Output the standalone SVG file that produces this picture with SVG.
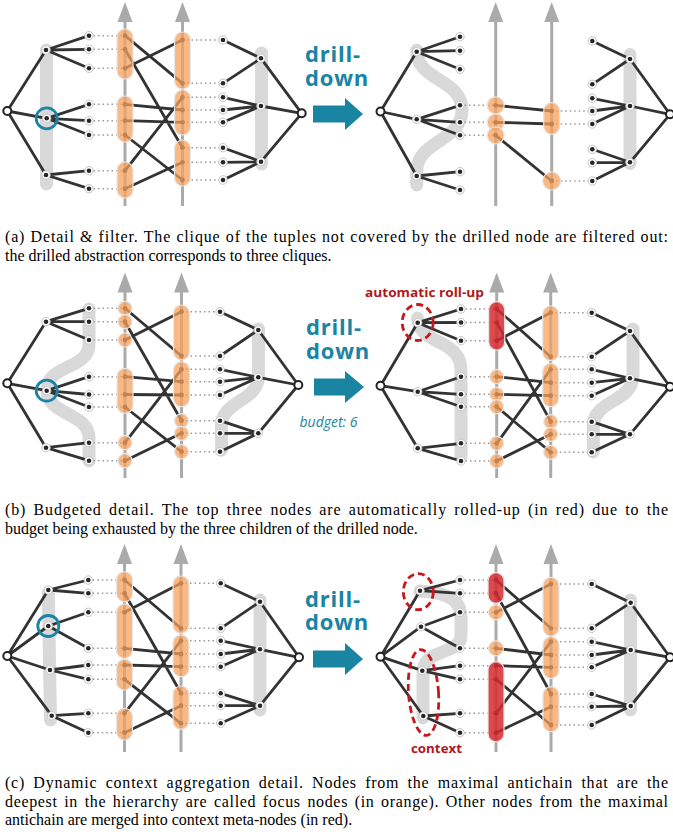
<svg xmlns="http://www.w3.org/2000/svg" xmlns:xlink="http://www.w3.org/1999/xlink" width="673" height="836" viewBox="0 0 673 836">
<style>
.bar{stroke:#d9d9d9;stroke-width:13;stroke-linecap:round;stroke-linejoin:round;fill:none}
.ax{stroke:#aaaaaa;stroke-width:3}
.e{stroke:#333;stroke-width:2.8;stroke-linecap:round;fill:none}
.d{stroke:#999;stroke-width:1.5;stroke-dasharray:1.5 3;fill:none}
.op{fill:#f7a15e;fill-opacity:.75;stroke:#e6e6e6;stroke-width:1.2}
.rp{fill:#d42a2f;fill-opacity:.85;stroke:#e6e6e6;stroke-width:1.2}
.ad{fill:#2a2a2a}
.rt{fill:#fff;stroke:#222;stroke-width:2}
.hl{fill:none;stroke:#1a84a3;stroke-width:2.8}
.rd{fill:none;stroke:#c8161d;stroke-width:2.8;stroke-dasharray:7 4}
.dd{font-family:"Open Sans","DejaVu Sans",sans-serif;font-weight:bold;font-size:22px;letter-spacing:0.8px;fill:#1a84a3}
.bu{font-family:"Open Sans","DejaVu Sans",sans-serif;font-style:italic;font-size:14px;fill:#1a84a3}
.rl{font-family:"Open Sans","DejaVu Sans",sans-serif;font-weight:bold;font-size:13px;fill:#b0181e}
.cap{font-family:"Liberation Serif","Times New Roman",serif;font-size:16px;fill:#000}
.arr{fill:#1a84a3}
</style>
<defs>
<g id="lf"><circle r="4.2" fill="#fff" stroke="#c4c4c4" stroke-width="1"/><circle r="2.3" fill="#262626"/></g>
<path id="ah" d="M-7.5,20L7.5,20L0,0Z" fill="#aaaaaa"/>
</defs>

<!-- ================= backgrounds: bars and axes ================= -->
<g id="bars">
<line class="bar" x1="46.5" y1="50" x2="46.5" y2="184"/>
<line class="bar" x1="261.5" y1="53" x2="261.5" y2="164"/>
<path class="bar" d="M416.7,50C416.7,82 462,78 462,110C462,142 416.7,140 416.7,172L416.7,185"/>
<line class="bar" x1="630" y1="54.5" x2="630" y2="163.5"/>
<path class="bar" d="M89,309L89,344C89,370 47,364 47,390C47,416 89,412 89,438L89,461"/>
<path class="bar" d="M258.5,329L258.5,376C258.5,402 221.5,400 221.5,426L221.5,450"/>
<path class="bar" d="M417.5,318C419,346 461,338 461,370L461,457"/>
<path class="bar" d="M633,329L633,376C633,402 593.3,400 593.3,426L593.3,452"/>
<line class="bar" x1="48.3" y1="593" x2="50.5" y2="720"/>
<line class="bar" x1="260" y1="600" x2="260" y2="710"/>
<path class="bar" d="M420,591C450,593 461,600 461,618L461,636C461,655 423,648 423,672L423,718"/>
<line class="bar" x1="630.5" y1="600" x2="630.5" y2="710"/>
</g>
<g id="axes">
<line class="ax" x1="125" y1="206" x2="125" y2="20"/><use href="#ah" x="125" y="2"/>
<line class="ax" x1="182.5" y1="206" x2="182.5" y2="20"/><use href="#ah" x="182.5" y="2"/>
<line class="ax" x1="495.7" y1="206" x2="495.7" y2="20"/><use href="#ah" x="495.7" y="2"/>
<line class="ax" x1="551.7" y1="206" x2="551.7" y2="20"/><use href="#ah" x="551.7" y="2"/>
<line class="ax" x1="125" y1="478" x2="125" y2="290"/><use href="#ah" x="125" y="272.5"/>
<line class="ax" x1="181.5" y1="478" x2="181.5" y2="290"/><use href="#ah" x="181.5" y="272.5"/>
<line class="ax" x1="496.7" y1="478" x2="496.7" y2="290"/><use href="#ah" x="496.7" y="272.5"/>
<line class="ax" x1="550.7" y1="478" x2="550.7" y2="290"/><use href="#ah" x="550.7" y="272.5"/>
<line class="ax" x1="124.5" y1="752" x2="124.5" y2="562"/><use href="#ah" x="124.5" y="544"/>
<line class="ax" x1="181" y1="752" x2="181" y2="562"/><use href="#ah" x="181" y="544"/>
<line class="ax" x1="496" y1="752" x2="496" y2="562"/><use href="#ah" x="496" y="544"/>
<line class="ax" x1="551" y1="752" x2="551" y2="562"/><use href="#ah" x="551" y="544"/>
</g>

<!-- ================= connectors ================= -->
<g id="connectors">
<!-- panel a left -->
<path class="d" d="M89,35.7H125M89,49.3H125M89,68.3H125M89,104.3H125M89,120.7H125M89,135H125M89,170.7H125M89,188.7H125"/>
<path class="d" d="M182.5,40H223M182.5,83.3H223M182.5,97.3H223M182.5,110H223M182.5,122.3H223M182.5,147.7H223M182.5,162.3H223M182.5,180H223"/>
<path class="e" d="M7.3,111L46,50M7.3,111L46.7,118.3M7.3,111L46,175"/>
<path class="e" d="M46,50L89,35.7M46,50L89,49.3M46,50L89,68.3M46.7,118.3L89,104.3M46.7,118.3L89,120.7M46.7,118.3L89,135M46,175L89,170.7M46,175L89,188.7"/>
<path class="e" d="M125,35.7L182.5,83.3M125,49.3L182.5,147.7M125,68.3L182.5,40M125,104.3L182.5,110M125,120.7L182.5,122.3M125,135L182.5,180M125,170.7L182.5,97.3M125,188.7L182.5,162.3"/>
<path class="e" d="M223,40L261,58.3M223,83.3L261,58.3M223,97.3L261,106M223,110L261,106M223,122.3L261,106M223,147.7L261,161.7M223,162.3L261,161.7M223,180L261,161.7"/>
<path class="e" d="M261,58.3L301.7,113.3M261,106L301.7,113.3M261,161.7L301.7,113.3"/>
<!-- panel a right -->
<path class="d" d="M460,105.3H495.7M460,122.3H495.7M460,135.3H495.7M551.7,111H592.3M551.7,124H592.3M551.7,181H592.3"/>
<path class="e" d="M380.5,111.5L416.7,51.7M380.5,111.5L416.7,119.3M380.5,111.5L416.7,176"/>
<path class="e" d="M416.7,51.7L460,36.7M416.7,51.7L460,50.7M416.7,51.7L460,69.3M416.7,119.3L460,105.3M416.7,119.3L460,122.3M416.7,119.3L460,135.3M416.7,176L460,171.7M416.7,176L460,190"/>
<path class="e" d="M495.7,105.3L551.7,111M495.7,122.3L551.7,124M495.7,135.3L551.7,181"/>
<path class="e" d="M592.3,41L630,59M592.3,84.3L630,59M592.3,98.3L630,106M592.3,111L630,106M592.3,124L630,106M592.3,149.3L630,162.3M592.3,162.7L630,162.3M592.3,181L630,162.3"/>
<path class="e" d="M630,59L670,114.3M630,106L670,114.3M630,162.3L670,114.3"/>
<!-- panel b left -->
<path class="d" d="M89,308.3H125M89,321.7H125M89,340H125M89,376.7H125M89,394.5H125M89,407H125M89,442.7H125M89,460.7H125"/>
<path class="d" d="M181.5,311.7H220M181.5,356H220M181.5,369.3H220M181.5,381.7H220M181.5,395H220M181.5,420.7H220M181.5,433.3H220M181.5,451.7H220"/>
<path class="e" d="M7.3,383.3L46,321.7M7.3,383.3L46.7,390.7M7.3,383.3L46,447.7"/>
<path class="e" d="M46,321.7L89,308.3M46,321.7L89,321.7M46,321.7L89,340M46.7,390.7L89,376.7M46.7,390.7L89,394.5M46.7,390.7L89,407M46,447.7L89,442.7M46,447.7L89,460.7"/>
<path class="e" d="M125,308.3L181.5,356M125,321.7L181.5,420.7M125,340L181.5,311.7M125,376.7L181.5,381.7M125,394.5L181.5,395M125,407L181.5,451.7M125,442.7L181.5,369.3M125,460.7L181.5,433.3"/>
<path class="e" d="M220,311.7L258.3,330M220,356L258.3,330M220,369.3L258.3,377.3M220,381.7L258.3,377.3M220,395L258.3,377.3M220,420.7L258.3,433.3M220,433.3L258.3,433.3M220,451.7L258.3,433.3"/>
<path class="e" d="M258.3,330L298.3,385M258.3,377.3L298.3,385M258.3,433.3L298.3,385"/>
<!-- panel b right -->
<path class="d" d="M461,309H496.7M461,322.5H496.7M461,340.7H496.7M461,376.7H496.7M461,394.3H496.7M461,406.7H496.7M461,443.3H496.7M461,461H496.7"/>
<path class="d" d="M550.7,312.7H591.7M550.7,356.7H591.7M550.7,369.3H591.7M550.7,382.7H591.7M550.7,395.7H591.7M550.7,421.7H591.7M550.7,434.3H591.7M550.7,452.3H591.7"/>
<path class="e" d="M380.5,385.7L417.7,322.7M380.5,385.7L417.7,391.7M380.5,385.7L417.7,448.3"/>
<path class="e" d="M417.7,322.7L461,309M417.7,322.7L461,322.5M417.7,322.7L461,340.7M417.7,391.7L461,376.7M417.7,391.7L461,394.3M417.7,391.7L461,406.7M417.7,448.3L461,443.3M417.7,448.3L461,461"/>
<path class="e" d="M496.7,309L550.7,356.7M496.7,322.5L550.7,421.7M496.7,340.7L550.7,312.7M496.7,376.7L550.7,382.7M496.7,394.3L550.7,395.7M496.7,406.7L550.7,452.3M496.7,443.3L550.7,369.3M496.7,461L550.7,434.3"/>
<path class="e" d="M591.7,312.7L630,331M591.7,356.7L630,331M591.7,369.3L630,378.3M591.7,382.7L630,378.3M591.7,395.7L630,378.3M591.7,421.7L630,434.3M591.7,434.3L630,434.3M591.7,452.3L630,434.3"/>
<path class="e" d="M630,331L670,386.7M630,378.3L670,386.7M630,434.3L670,386.7"/>
<!-- panel c left -->
<path class="d" d="M88.3,580H124.5M88.3,593.3H124.5M88.3,612.3H124.5M88.3,648.3H124.5M88.3,665H124.5M88.3,679.3H124.5M88.3,713.3H124.5M88.3,732.7H124.5"/>
<path class="d" d="M181,583.3H220.7M181,628.3H220.7M181,640.7H220.7M181,654H220.7M181,666.7H220.7M181,693.3H220.7M181,705.7H220.7M181,723.3H220.7"/>
<path class="e" d="M7.3,656L48.3,590M7.3,656L48.3,626M7.3,656L50,670M7.3,656L51.7,715.7"/>
<path class="e" d="M48.3,590L88.3,580M48.3,590L88.3,593.3M48.3,626L88.3,612.3M48.3,626L88.3,648.3M50,670L88.3,665M50,670L88.3,679.3M51.7,715.7L88.3,713.3M51.7,715.7L88.3,732.7"/>
<path class="e" d="M124.5,580L181,628.3M124.5,593.3L181,693.3M124.5,612.3L181,583.3M124.5,648.3L181,654M124.5,665L181,666.7M124.5,679.3L181,723.3M124.5,713.3L181,640.7M124.5,732.7L181,705.7"/>
<path class="e" d="M220.7,583.3L260,601.7M220.7,628.3L260,601.7M220.7,640.7L260,649.3M220.7,654L260,649.3M220.7,666.7L260,649.3M220.7,693.3L260,705.7M220.7,705.7L260,705.7M220.7,723.3L260,705.7"/>
<path class="e" d="M260,601.7L299,657.3M260,649.3L299,657.3M260,705.7L299,657.3"/>
<!-- panel c right -->
<path class="d" d="M460,580H496M460,593.3H496M460,612.3H496M460,648.3H496M460,665.7H496M460,679.3H496M460,713.3H496M460,732.7H496"/>
<path class="d" d="M551,584H591.7M551,628.3H591.7M551,641.7H591.7M551,655H591.7M551,667.3H591.7M551,694H591.7M551,706.7H591.7M551,725H591.7"/>
<path class="e" d="M380.5,656.7L420,590.7M380.5,656.7L421,626.7M380.5,656.7L422.3,670.7M380.5,656.7L423.3,716"/>
<path class="e" d="M420,590.7L460,580M420,590.7L460,593.3M421,626.7L460,612.3M421,626.7L460,648.3M422.3,670.7L460,665.7M422.3,670.7L460,679.3M423.3,716L460,713.3M423.3,716L460,732.7"/>
<path class="e" d="M496,580L551,628.3M496,593.3L551,694M496,612.3L551,584M496,648.3L551,655M496,665.7L551,667.3M496,679.3L551,725M496,713.3L551,641.7M496,732.7L551,706.7"/>
<path class="e" d="M591.7,584L630.7,602.7M591.7,628.3L630.7,602.7M591.7,641.7L630.7,650M591.7,655L630.7,650M591.7,667.3L630.7,650M591.7,694L630.7,706M591.7,706.7L630.7,706M591.7,725L630.7,706"/>
<path class="e" d="M630.7,602.7L670,657.3M630.7,650L670,657.3M630.7,706L670,657.3"/>
</g>

<!-- ================= nodes ================= -->
<!-- panel a left -->
<g id="aL-root"><circle class="rt" cx="7.3" cy="111" r="4"/></g>
<g id="aL-g1"><use href="#lf" x="46" y="50"/></g>
<g id="aL-g2"><use href="#lf" x="46.7" y="118.3"/></g>
<g id="aL-g3"><use href="#lf" x="46" y="175"/></g>
<g id="aL-l1"><use href="#lf" x="89" y="35.7"/></g>
<g id="aL-l2"><use href="#lf" x="89" y="49.3"/></g>
<g id="aL-l3"><use href="#lf" x="89" y="68.3"/></g>
<g id="aL-l4"><use href="#lf" x="89" y="104.3"/></g>
<g id="aL-l5"><use href="#lf" x="89" y="120.7"/></g>
<g id="aL-l6"><use href="#lf" x="89" y="135"/></g>
<g id="aL-l7"><use href="#lf" x="89" y="170.7"/></g>
<g id="aL-l8"><use href="#lf" x="89" y="188.7"/></g>
<g id="aL-a1"><circle class="ad" cx="125" cy="35.7" r="2.4"/><circle class="ad" cx="125" cy="49.3" r="2.4"/><circle class="ad" cx="125" cy="68.3" r="2.4"/><rect class="op" x="117" y="29" width="16" height="50" rx="8"/></g>
<g id="aL-a2"><circle class="ad" cx="125" cy="104.3" r="2.4"/><circle class="ad" cx="125" cy="120.7" r="2.4"/><circle class="ad" cx="125" cy="135" r="2.4"/><rect class="op" x="117" y="96" width="16" height="46" rx="8"/></g>
<g id="aL-a3"><circle class="ad" cx="125" cy="170.7" r="2.4"/><circle class="ad" cx="125" cy="188.7" r="2.4"/><rect class="op" x="117" y="162" width="16" height="36" rx="8"/></g>
<g id="aL-b1"><circle class="ad" cx="182.5" cy="40" r="2.4"/><circle class="ad" cx="182.5" cy="83.3" r="2.4"/><rect class="op" x="174.5" y="32" width="16" height="57" rx="8"/></g>
<g id="aL-b2"><circle class="ad" cx="182.5" cy="97.3" r="2.4"/><circle class="ad" cx="182.5" cy="110" r="2.4"/><circle class="ad" cx="182.5" cy="122.3" r="2.4"/><rect class="op" x="174.5" y="90" width="16" height="45" rx="8"/></g>
<g id="aL-b3"><circle class="ad" cx="182.5" cy="147.7" r="2.4"/><circle class="ad" cx="182.5" cy="162.3" r="2.4"/><circle class="ad" cx="182.5" cy="180" r="2.4"/><rect class="op" x="174.5" y="140" width="16" height="46" rx="8"/></g>
<g id="aL-r1"><use href="#lf" x="223" y="40"/></g>
<g id="aL-r2"><use href="#lf" x="223" y="83.3"/></g>
<g id="aL-r3"><use href="#lf" x="223" y="97.3"/></g>
<g id="aL-r4"><use href="#lf" x="223" y="110"/></g>
<g id="aL-r5"><use href="#lf" x="223" y="122.3"/></g>
<g id="aL-r6"><use href="#lf" x="223" y="147.7"/></g>
<g id="aL-r7"><use href="#lf" x="223" y="162.3"/></g>
<g id="aL-r8"><use href="#lf" x="223" y="180"/></g>
<g id="aL-h1"><use href="#lf" x="261" y="58.3"/></g>
<g id="aL-h2"><use href="#lf" x="261" y="106"/></g>
<g id="aL-h3"><use href="#lf" x="261" y="161.7"/></g>
<g id="aL-rootR"><circle class="rt" cx="301.7" cy="113.3" r="4"/></g>
<g id="aL-focus"><circle class="hl" cx="46.7" cy="118.3" r="10.5"/></g>

<!-- panel a right -->
<g id="aR-root"><circle class="rt" cx="380.5" cy="111.5" r="4"/></g>
<g id="aR-g1"><use href="#lf" x="416.7" y="51.7"/></g>
<g id="aR-g2"><use href="#lf" x="416.7" y="119.3"/></g>
<g id="aR-g3"><use href="#lf" x="416.7" y="176"/></g>
<g id="aR-l1"><use href="#lf" x="460" y="36.7"/></g>
<g id="aR-l2"><use href="#lf" x="460" y="50.7"/></g>
<g id="aR-l3"><use href="#lf" x="460" y="69.3"/></g>
<g id="aR-l4"><use href="#lf" x="460" y="105.3"/></g>
<g id="aR-l5"><use href="#lf" x="460" y="122.3"/></g>
<g id="aR-l6"><use href="#lf" x="460" y="135.3"/></g>
<g id="aR-l7"><use href="#lf" x="460" y="171.7"/></g>
<g id="aR-l8"><use href="#lf" x="460" y="190"/></g>
<g id="aR-a1"><circle class="ad" cx="495.7" cy="105.3" r="2.4"/><circle class="op" cx="495.7" cy="105.3" r="8.5"/></g>
<g id="aR-a2"><circle class="ad" cx="495.7" cy="122.3" r="2.4"/><circle class="op" cx="495.7" cy="122.3" r="8.5"/></g>
<g id="aR-a3"><circle class="ad" cx="495.7" cy="135.3" r="2.4"/><circle class="op" cx="495.7" cy="135.3" r="8.5"/></g>
<g id="aR-b1"><circle class="ad" cx="551.7" cy="111" r="2.4"/><circle class="ad" cx="551.7" cy="124" r="2.4"/><rect class="op" x="543.7" y="102.7" width="16" height="31.6" rx="8"/></g>
<g id="aR-b2"><circle class="ad" cx="551.7" cy="181" r="2.4"/><circle class="op" cx="551.7" cy="181" r="9"/></g>
<g id="aR-r1"><use href="#lf" x="592.3" y="41"/></g>
<g id="aR-r2"><use href="#lf" x="592.3" y="84.3"/></g>
<g id="aR-r3"><use href="#lf" x="592.3" y="98.3"/></g>
<g id="aR-r4"><use href="#lf" x="592.3" y="111"/></g>
<g id="aR-r5"><use href="#lf" x="592.3" y="124"/></g>
<g id="aR-r6"><use href="#lf" x="592.3" y="149.3"/></g>
<g id="aR-r7"><use href="#lf" x="592.3" y="162.7"/></g>
<g id="aR-r8"><use href="#lf" x="592.3" y="181"/></g>
<g id="aR-h1"><use href="#lf" x="630" y="59"/></g>
<g id="aR-h2"><use href="#lf" x="630" y="106"/></g>
<g id="aR-h3"><use href="#lf" x="630" y="162.3"/></g>
<g id="aR-rootR"><circle class="rt" cx="670" cy="114.3" r="4"/></g>

<!-- panel b left -->
<g id="bL-root"><circle class="rt" cx="7.3" cy="383.3" r="4"/></g>
<g id="bL-g1"><use href="#lf" x="46" y="321.7"/></g>
<g id="bL-g2"><use href="#lf" x="46.7" y="390.7"/></g>
<g id="bL-g3"><use href="#lf" x="46" y="447.7"/></g>
<g id="bL-l1"><use href="#lf" x="89" y="308.3"/></g>
<g id="bL-l2"><use href="#lf" x="89" y="321.7"/></g>
<g id="bL-l3"><use href="#lf" x="89" y="340"/></g>
<g id="bL-l4"><use href="#lf" x="89" y="376.7"/></g>
<g id="bL-l5"><use href="#lf" x="89" y="394.5"/></g>
<g id="bL-l6"><use href="#lf" x="89" y="407"/></g>
<g id="bL-l7"><use href="#lf" x="89" y="442.7"/></g>
<g id="bL-l8"><use href="#lf" x="89" y="460.7"/></g>
<g id="bL-a1"><circle class="ad" cx="125" cy="308.3" r="2.4"/><circle class="op" cx="125" cy="308.3" r="7"/></g>
<g id="bL-a2"><circle class="ad" cx="125" cy="321.7" r="2.4"/><circle class="op" cx="125" cy="321.7" r="7"/></g>
<g id="bL-a3"><circle class="ad" cx="125" cy="340" r="2.4"/><circle class="op" cx="125" cy="340" r="7"/></g>
<g id="bL-a4"><circle class="ad" cx="125" cy="376.7" r="2.4"/><circle class="ad" cx="125" cy="394.5" r="2.4"/><circle class="ad" cx="125" cy="407" r="2.4"/><rect class="op" x="117" y="368.3" width="16" height="45" rx="8"/></g>
<g id="bL-a5"><circle class="ad" cx="125" cy="442.7" r="2.4"/><circle class="op" cx="125" cy="442.7" r="7"/></g>
<g id="bL-a6"><circle class="ad" cx="125" cy="460.7" r="2.4"/><circle class="op" cx="125" cy="460.7" r="7"/></g>
<g id="bL-b1"><circle class="ad" cx="181.5" cy="311.7" r="2.4"/><circle class="ad" cx="181.5" cy="356" r="2.4"/><rect class="op" x="173.5" y="305" width="16" height="55" rx="8"/></g>
<g id="bL-b2"><circle class="ad" cx="181.5" cy="369.3" r="2.4"/><circle class="ad" cx="181.5" cy="381.7" r="2.4"/><circle class="ad" cx="181.5" cy="395" r="2.4"/><rect class="op" x="173.5" y="361.7" width="16" height="45" rx="8"/></g>
<g id="bL-b3"><circle class="ad" cx="181.5" cy="420.7" r="2.4"/><circle class="op" cx="181.5" cy="420.7" r="7"/></g>
<g id="bL-b4"><circle class="ad" cx="181.5" cy="433.3" r="2.4"/><circle class="op" cx="181.5" cy="433.3" r="7"/></g>
<g id="bL-b5"><circle class="ad" cx="181.5" cy="451.7" r="2.4"/><circle class="op" cx="181.5" cy="451.7" r="7"/></g>
<g id="bL-r1"><use href="#lf" x="220" y="311.7"/></g>
<g id="bL-r2"><use href="#lf" x="220" y="356"/></g>
<g id="bL-r3"><use href="#lf" x="220" y="369.3"/></g>
<g id="bL-r4"><use href="#lf" x="220" y="381.7"/></g>
<g id="bL-r5"><use href="#lf" x="220" y="395"/></g>
<g id="bL-r6"><use href="#lf" x="220" y="420.7"/></g>
<g id="bL-r7"><use href="#lf" x="220" y="433.3"/></g>
<g id="bL-r8"><use href="#lf" x="220" y="451.7"/></g>
<g id="bL-h1"><use href="#lf" x="258.3" y="330"/></g>
<g id="bL-h2"><use href="#lf" x="258.3" y="377.3"/></g>
<g id="bL-h3"><use href="#lf" x="258.3" y="433.3"/></g>
<g id="bL-rootR"><circle class="rt" cx="298.3" cy="385" r="4"/></g>
<g id="bL-focus"><circle class="hl" cx="46.7" cy="390.7" r="10.5"/></g>

<!-- panel b right -->
<g id="bR-root"><circle class="rt" cx="380.5" cy="385.7" r="4"/></g>
<g id="bR-g1"><use href="#lf" x="417.7" y="322.7"/></g>
<g id="bR-g2"><use href="#lf" x="417.7" y="391.7"/></g>
<g id="bR-g3"><use href="#lf" x="417.7" y="448.3"/></g>
<g id="bR-l1"><use href="#lf" x="461" y="309"/></g>
<g id="bR-l2"><use href="#lf" x="461" y="322.5"/></g>
<g id="bR-l3"><use href="#lf" x="461" y="340.7"/></g>
<g id="bR-l4"><use href="#lf" x="461" y="376.7"/></g>
<g id="bR-l5"><use href="#lf" x="461" y="394.3"/></g>
<g id="bR-l6"><use href="#lf" x="461" y="406.7"/></g>
<g id="bR-l7"><use href="#lf" x="461" y="443.3"/></g>
<g id="bR-l8"><use href="#lf" x="461" y="461"/></g>
<g id="bR-a1"><circle class="ad" cx="496.7" cy="309" r="2.4"/><circle class="ad" cx="496.7" cy="322.5" r="2.4"/><circle class="ad" cx="496.7" cy="340.7" r="2.4"/><rect class="rp" x="488.7" y="301.7" width="16" height="48.3" rx="8"/></g>
<g id="bR-a2"><circle class="ad" cx="496.7" cy="376.7" r="2.4"/><circle class="op" cx="496.7" cy="376.7" r="7"/></g>
<g id="bR-a3"><circle class="ad" cx="496.7" cy="394.3" r="2.4"/><circle class="op" cx="496.7" cy="394.3" r="7"/></g>
<g id="bR-a4"><circle class="ad" cx="496.7" cy="406.7" r="2.4"/><circle class="op" cx="496.7" cy="406.7" r="7"/></g>
<g id="bR-a5"><circle class="ad" cx="496.7" cy="443.3" r="2.4"/><circle class="op" cx="496.7" cy="443.3" r="7"/></g>
<g id="bR-a6"><circle class="ad" cx="496.7" cy="461" r="2.4"/><circle class="op" cx="496.7" cy="461" r="7"/></g>
<g id="bR-b1"><circle class="ad" cx="550.7" cy="312.7" r="2.4"/><circle class="ad" cx="550.7" cy="356.7" r="2.4"/><rect class="op" x="542.7" y="306" width="16" height="54.7" rx="8"/></g>
<g id="bR-b2"><circle class="ad" cx="550.7" cy="369.3" r="2.4"/><circle class="ad" cx="550.7" cy="382.7" r="2.4"/><circle class="ad" cx="550.7" cy="395.7" r="2.4"/><rect class="op" x="542.7" y="363.3" width="16" height="43.4" rx="8"/></g>
<g id="bR-b3"><circle class="ad" cx="550.7" cy="421.7" r="2.4"/><circle class="op" cx="550.7" cy="421.7" r="7"/></g>
<g id="bR-b4"><circle class="ad" cx="550.7" cy="434.3" r="2.4"/><circle class="op" cx="550.7" cy="434.3" r="7"/></g>
<g id="bR-b5"><circle class="ad" cx="550.7" cy="452.3" r="2.4"/><circle class="op" cx="550.7" cy="452.3" r="7"/></g>
<g id="bR-r1"><use href="#lf" x="591.7" y="312.7"/></g>
<g id="bR-r2"><use href="#lf" x="591.7" y="356.7"/></g>
<g id="bR-r3"><use href="#lf" x="591.7" y="369.3"/></g>
<g id="bR-r4"><use href="#lf" x="591.7" y="382.7"/></g>
<g id="bR-r5"><use href="#lf" x="591.7" y="395.7"/></g>
<g id="bR-r6"><use href="#lf" x="591.7" y="421.7"/></g>
<g id="bR-r7"><use href="#lf" x="591.7" y="434.3"/></g>
<g id="bR-r8"><use href="#lf" x="591.7" y="452.3"/></g>
<g id="bR-h1"><use href="#lf" x="630" y="331"/></g>
<g id="bR-h2"><use href="#lf" x="630" y="378.3"/></g>
<g id="bR-h3"><use href="#lf" x="630" y="434.3"/></g>
<g id="bR-rootR"><circle class="rt" cx="670" cy="386.7" r="4"/></g>
<g id="bR-rollup"><ellipse class="rd" cx="417.7" cy="322.5" rx="15.5" ry="18"/></g>

<!-- panel c left -->
<g id="cL-root"><circle class="rt" cx="7.3" cy="656" r="4"/></g>
<g id="cL-g1"><use href="#lf" x="48.3" y="590"/></g>
<g id="cL-g2"><use href="#lf" x="48.3" y="626"/></g>
<g id="cL-g3"><use href="#lf" x="50" y="670"/></g>
<g id="cL-g4"><use href="#lf" x="51.7" y="715.7"/></g>
<g id="cL-l1"><use href="#lf" x="88.3" y="580"/></g>
<g id="cL-l2"><use href="#lf" x="88.3" y="593.3"/></g>
<g id="cL-l3"><use href="#lf" x="88.3" y="612.3"/></g>
<g id="cL-l4"><use href="#lf" x="88.3" y="648.3"/></g>
<g id="cL-l5"><use href="#lf" x="88.3" y="665"/></g>
<g id="cL-l6"><use href="#lf" x="88.3" y="679.3"/></g>
<g id="cL-l7"><use href="#lf" x="88.3" y="713.3"/></g>
<g id="cL-l8"><use href="#lf" x="88.3" y="732.7"/></g>
<g id="cL-a1"><circle class="ad" cx="124.5" cy="580" r="2.4"/><circle class="ad" cx="124.5" cy="593.3" r="2.4"/><rect class="op" x="116.5" y="571.7" width="16" height="30" rx="8"/></g>
<g id="cL-a2"><circle class="ad" cx="124.5" cy="612.3" r="2.4"/><circle class="ad" cx="124.5" cy="648.3" r="2.4"/><rect class="op" x="116.5" y="604" width="16" height="54.3" rx="8"/></g>
<g id="cL-a3"><circle class="ad" cx="124.5" cy="665" r="2.4"/><circle class="ad" cx="124.5" cy="679.3" r="2.4"/><rect class="op" x="116.5" y="659.3" width="16" height="30.7" rx="8"/></g>
<g id="cL-a4"><circle class="ad" cx="124.5" cy="713.3" r="2.4"/><circle class="ad" cx="124.5" cy="732.7" r="2.4"/><rect class="op" x="116.5" y="708.3" width="16" height="31.7" rx="8"/></g>
<g id="cL-b1"><circle class="ad" cx="181" cy="583.3" r="2.4"/><circle class="ad" cx="181" cy="628.3" r="2.4"/><rect class="op" x="173" y="576" width="16" height="57.3" rx="8"/></g>
<g id="cL-b2"><circle class="ad" cx="181" cy="640.7" r="2.4"/><circle class="ad" cx="181" cy="654" r="2.4"/><circle class="ad" cx="181" cy="666.7" r="2.4"/><rect class="op" x="173" y="635" width="16" height="41.7" rx="8"/></g>
<g id="cL-b3"><circle class="ad" cx="181" cy="693.3" r="2.4"/><circle class="ad" cx="181" cy="705.7" r="2.4"/><circle class="ad" cx="181" cy="723.3" r="2.4"/><rect class="op" x="173" y="686" width="16" height="43.3" rx="8"/></g>
<g id="cL-r1"><use href="#lf" x="220.7" y="583.3"/></g>
<g id="cL-r2"><use href="#lf" x="220.7" y="628.3"/></g>
<g id="cL-r3"><use href="#lf" x="220.7" y="640.7"/></g>
<g id="cL-r4"><use href="#lf" x="220.7" y="654"/></g>
<g id="cL-r5"><use href="#lf" x="220.7" y="666.7"/></g>
<g id="cL-r6"><use href="#lf" x="220.7" y="693.3"/></g>
<g id="cL-r7"><use href="#lf" x="220.7" y="705.7"/></g>
<g id="cL-r8"><use href="#lf" x="220.7" y="723.3"/></g>
<g id="cL-h1"><use href="#lf" x="260" y="601.7"/></g>
<g id="cL-h2"><use href="#lf" x="260" y="649.3"/></g>
<g id="cL-h3"><use href="#lf" x="260" y="705.7"/></g>
<g id="cL-rootR"><circle class="rt" cx="299" cy="657.3" r="4"/></g>
<g id="cL-focus"><circle class="hl" cx="48.3" cy="626" r="10.5"/></g>

<!-- panel c right -->
<g id="cR-root"><circle class="rt" cx="380.5" cy="656.7" r="4"/></g>
<g id="cR-g1"><use href="#lf" x="420" y="590.7"/></g>
<g id="cR-g2"><use href="#lf" x="421" y="626.7"/></g>
<g id="cR-g3"><use href="#lf" x="422.3" y="670.7"/></g>
<g id="cR-g4"><use href="#lf" x="423.3" y="716"/></g>
<g id="cR-l1"><use href="#lf" x="460" y="580"/></g>
<g id="cR-l2"><use href="#lf" x="460" y="593.3"/></g>
<g id="cR-l3"><use href="#lf" x="460" y="612.3"/></g>
<g id="cR-l4"><use href="#lf" x="460" y="648.3"/></g>
<g id="cR-l5"><use href="#lf" x="460" y="665.7"/></g>
<g id="cR-l6"><use href="#lf" x="460" y="679.3"/></g>
<g id="cR-l7"><use href="#lf" x="460" y="713.3"/></g>
<g id="cR-l8"><use href="#lf" x="460" y="732.7"/></g>
<g id="cR-a1"><circle class="ad" cx="496" cy="580" r="2.4"/><circle class="ad" cx="496" cy="593.3" r="2.4"/><rect class="rp" x="488" y="572.7" width="16" height="30.6" rx="8"/></g>
<g id="cR-a2"><circle class="ad" cx="496" cy="612.3" r="2.4"/><circle class="op" cx="496" cy="612.3" r="7.5"/></g>
<g id="cR-a3"><circle class="ad" cx="496" cy="648.3" r="2.4"/><circle class="op" cx="496" cy="648.3" r="7.5"/></g>
<g id="cR-a4"><circle class="ad" cx="496" cy="665.7" r="2.4"/><circle class="ad" cx="496" cy="679.3" r="2.4"/><circle class="ad" cx="496" cy="713.3" r="2.4"/><circle class="ad" cx="496" cy="732.7" r="2.4"/><rect class="rp" x="488" y="661.7" width="16" height="80" rx="8"/></g>
<g id="cR-b1"><circle class="ad" cx="551" cy="584" r="2.4"/><circle class="ad" cx="551" cy="628.3" r="2.4"/><rect class="op" x="543" y="577.3" width="16" height="58.7" rx="8"/></g>
<g id="cR-b2"><circle class="ad" cx="551" cy="641.7" r="2.4"/><circle class="ad" cx="551" cy="655" r="2.4"/><circle class="ad" cx="551" cy="667.3" r="2.4"/><rect class="op" x="543" y="636.7" width="16" height="41.6" rx="8"/></g>
<g id="cR-b3"><circle class="ad" cx="551" cy="694" r="2.4"/><circle class="ad" cx="551" cy="706.7" r="2.4"/><circle class="ad" cx="551" cy="725" r="2.4"/><rect class="op" x="543" y="686.7" width="16" height="45" rx="8"/></g>
<g id="cR-r1"><use href="#lf" x="591.7" y="584"/></g>
<g id="cR-r2"><use href="#lf" x="591.7" y="628.3"/></g>
<g id="cR-r3"><use href="#lf" x="591.7" y="641.7"/></g>
<g id="cR-r4"><use href="#lf" x="591.7" y="655"/></g>
<g id="cR-r5"><use href="#lf" x="591.7" y="667.3"/></g>
<g id="cR-r6"><use href="#lf" x="591.7" y="694"/></g>
<g id="cR-r7"><use href="#lf" x="591.7" y="706.7"/></g>
<g id="cR-r8"><use href="#lf" x="591.7" y="725"/></g>
<g id="cR-h1"><use href="#lf" x="630.7" y="602.7"/></g>
<g id="cR-h2"><use href="#lf" x="630.7" y="650"/></g>
<g id="cR-h3"><use href="#lf" x="630.7" y="706"/></g>
<g id="cR-rootR"><circle class="rt" cx="670" cy="657.3" r="4"/></g>
<g id="cR-ctx1"><ellipse class="rd" cx="418.3" cy="591.7" rx="15" ry="18"/></g>
<g id="cR-ctx2"><ellipse class="rd" cx="423.5" cy="692.5" rx="15" ry="43" transform="rotate(-4 423.5 692.5)"/></g>

<!-- ================= drill-down labels and arrows ================= -->
<g id="drill-a"><text class="dd"><tspan x="305" y="61.5">drill-</tspan><tspan x="305" y="85.5">down</tspan></text><polygon class="arr" points="313,105.5 345,105.5 345,98 363,114 345,130 345,122.5 313,122.5"/></g>
<g id="drill-b"><text class="dd"><tspan x="306" y="334.5">drill-</tspan><tspan x="306" y="358.5">down</tspan></text><polygon class="arr" points="314,378.5 345,378.5 345,371 364,387 345,403 345,395.5 314,395.5"/><text class="bu" x="299.5" y="426.5">budget: 6</text></g>
<g id="drill-c"><text class="dd"><tspan x="305" y="606.5">drill-</tspan><tspan x="305" y="630">down</tspan></text><polygon class="arr" points="313,650.5 345,650.5 345,643 363,659 345,675 345,667.5 313,667.5"/></g>
<g id="labels"><text class="rl" x="365" y="296.5" textLength="119" lengthAdjust="spacingAndGlyphs">automatic roll-up</text><text class="rl" x="411" y="752.5" textLength="51" lengthAdjust="spacingAndGlyphs">context</text></g>

<!-- ================= captions ================= -->
<g id="captions">
<text class="cap" x="5" y="242" word-spacing="0.5" textLength="663" lengthAdjust="spacing">(a) Detail &amp; filter. The clique of the tuples not covered by the drilled node are filtered out:</text>
<text class="cap" x="5" y="261">the drilled abstraction corresponds to three cliques.</text>
<text class="cap" x="5" y="515" word-spacing="2.5" textLength="663" lengthAdjust="spacing">(b) Budgeted detail.  The top three nodes are automatically rolled-up (in red) due to the</text>
<text class="cap" x="5" y="534">budget being exhausted by the three children of the drilled node.</text>
<text class="cap" x="5" y="788" word-spacing="3.5" textLength="663" lengthAdjust="spacing">(c) Dynamic context aggregation detail.  Nodes from the maximal antichain that are the</text>
<text class="cap" x="5" y="806.5" word-spacing="2" textLength="663" lengthAdjust="spacing">deepest in the hierarchy are called focus nodes (in orange). Other nodes from the maximal</text>
<text class="cap" x="5" y="825">antichain are merged into context meta-nodes (in red).</text>
</g>
</svg>
